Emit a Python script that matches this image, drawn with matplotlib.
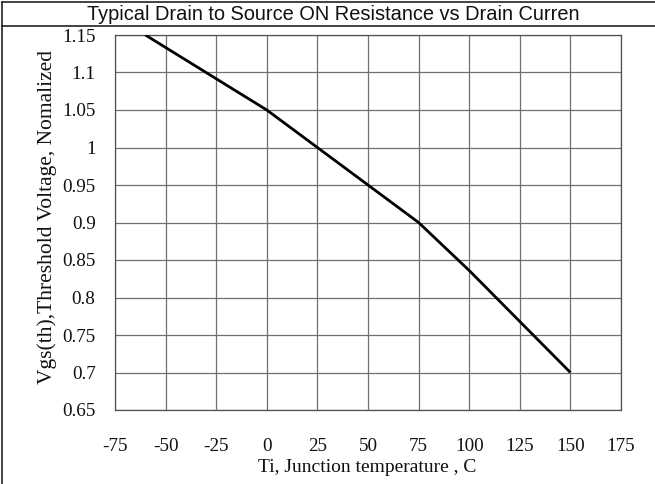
import matplotlib
matplotlib.use("Agg")
import matplotlib.pyplot as plt
from matplotlib.lines import Line2D

# Data
temp_c = [-60, 0, 25, 50, 75, 100, 150]
vth_norm = [1.15, 1.05, 1.0, 0.95, 0.9, 0.836, 0.7]
x_ticks = [-75, -50, -25, 0, 25, 50, 75, 100, 125, 150, 175]
x_tick_labels = ["-75", "-50", "-25", "0", "25", "50", "75", "100", "125", "150", "175"]
y_ticks = [0.65, 0.7, 0.75, 0.8, 0.85, 0.9, 0.95, 1.0, 1.05, 1.1, 1.15]
y_tick_labels = ["0.65", "0.7", "0.75", "0.8", "0.85", "0.9", "0.95", "1", "1.05", "1.1", "1.15"]
title = "Typical Drain to Source ON Resistance vs Drain Curren"
x_label = "Ti, Junction temperature , C"
y_label = "Vgs(th),Threshold Voltage, Nomalized"

W, H = 655, 484
fig = plt.figure(figsize=(W / 100, H / 100), dpi=100)
fig.patch.set_facecolor("white")

L, R, T, B = 115, 621, 35, 410
ax = fig.add_axes([L / W, 1 - B / H, (R - L) / W, (B - T) / H])
ax.plot(temp_c, vth_norm, color="black", linewidth=2.0, solid_capstyle="butt", zorder=3)
ax.set_xlim(-75, 175)
ax.set_ylim(0.65, 1.15)
ax.set_xticks(x_ticks)
ax.set_xticklabels(x_tick_labels)
ax.set_yticks(y_ticks)
ax.set_yticklabels(y_tick_labels)
ax.grid(True, color="#707070", linewidth=0.9)
ax.set_axisbelow(True)
for s in ax.spines.values():
    s.set_color("#505050")
    s.set_linewidth(0.9)
ax.tick_params(length=0, labelsize=13.8, colors="#111111")
ax.tick_params(axis="x", pad=20)
ax.tick_params(axis="y", pad=14)
for lab in ax.get_xticklabels() + ax.get_yticklabels():
    lab.set_family("Liberation Serif")

fig.text(0.5 * (L + R) / W - 1 / W, 1 - 468 / H, x_label, ha="center", va="center",
         family="Liberation Serif", fontsize=14, color="#111111")
fig.text(47 / W, 1 - 217 / H, y_label, ha="center", va="center", rotation=90,
         family="Liberation Serif", fontsize=15.5, color="#111111")

fig.text(333 / W, 1 - 14 / H, title, ha="center", va="center",
         family="Liberation Sans", fontsize=14.4, color="#111111")

# Frame lines
fig.add_artist(Line2D([2 / W, 2 / W], [0, 1 - 1.5 / H], transform=fig.transFigure, color="#222222", linewidth=1.2))
fig.add_artist(Line2D([2 / W, 1], [1 - 1.5 / H, 1 - 1.5 / H], transform=fig.transFigure, color="#222222", linewidth=1.2))
fig.add_artist(Line2D([2 / W, 1], [1 - 26 / H, 1 - 26 / H], transform=fig.transFigure, color="#222222", linewidth=1.2))

fig.savefig("out.png", dpi=100)
